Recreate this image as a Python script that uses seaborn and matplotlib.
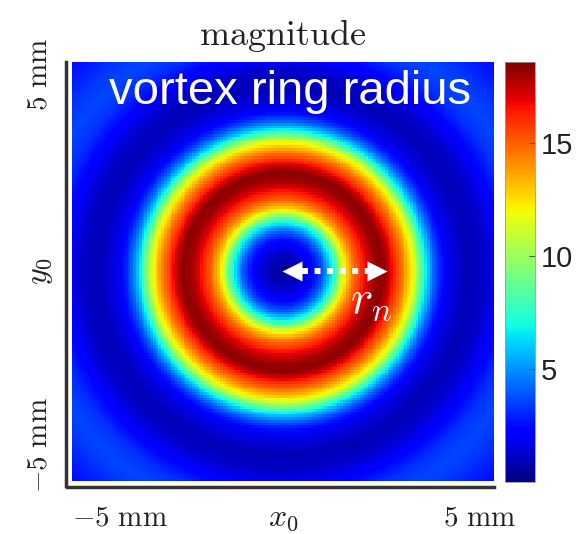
import numpy as np
import matplotlib
matplotlib.use("Agg")
import matplotlib.pyplot as plt
import seaborn as sns

# Radial profile of the magnitude (distance from ring centre, mm)
radius_mm = [0.0, 0.3, 0.6, 0.8, 0.95, 1.1, 1.25, 1.4, 1.55, 1.7, 1.85, 2.0, 2.2,
             2.4, 2.55, 2.7, 2.85, 3.0, 3.15, 3.3, 3.45, 3.6, 3.75, 3.95, 4.4, 4.8,
             5.2, 5.6, 6.0, 6.4, 6.8, 7.1]
magnitude = [0.5, 0.9, 1.8, 2.8, 4.0, 5.8, 8.0, 11.0, 13.2, 14.8, 15.9, 17.0, 18.1,
             18.4, 17.3, 15.8, 14.6, 13.0, 11.2, 8.5, 6.0, 4.2, 2.9, 1.8, 0.9, 1.2,
             2.2, 3.2, 3.6, 3.3, 2.8, 2.5]
grid_mm = np.linspace(-5, 5, 151)
cbar_ticks = [5, 10, 15]
x_ticklabels = [r'$-5\ \mathrm{mm}$', r'$5\ \mathrm{mm}$']
y_ticklabels = [r'$5\ \mathrm{mm}$', r'$-5\ \mathrm{mm}$']

plt.rcParams['mathtext.fontset'] = 'cm'
plt.rcParams['font.family'] = ['Liberation Sans', 'DejaVu Sans']

xx, yy = np.meshgrid(grid_mm, grid_mm)
field = np.interp(np.hypot(xx, yy), radius_mm, magnitude)
n = len(grid_mm)

fig = plt.figure(figsize=(5.79, 5.34), dpi=100)
ax = fig.add_axes([0.124, 0.0993, 0.729, 0.785])
cax = fig.add_axes([0.872, 0.097, 0.052, 0.787])

sns.heatmap(field, ax=ax, cbar_ax=cax, cmap='jet', vmin=0, vmax=18.6,
            xticklabels=False, yticklabels=False,
            cbar_kws={'ticks': cbar_ticks})

# axes ticks / labels
ax.tick_params(length=0, labelsize=21, labelcolor='#222222')
ax.tick_params(axis='x', pad=12)
ax.tick_params(axis='y', pad=10, labelrotation=90)
ax.set_xticks([0.0, 0.967 * n])
ax.set_xticklabels(x_ticklabels)
ax.set_yticks([0.031 * n, 0.914 * n])
ax.set_yticklabels(y_ticklabels)

ax.set_xlabel(r'$x_0$', fontsize=23, va='center', color='#222222')
ax.xaxis.set_label_coords(0.5, -0.088)
ax.set_ylabel(r'$y_0$', fontsize=23, va='center', color='#222222')
ax.yaxis.set_label_coords(-0.076, 0.5)
ax.set_title(r'$\mathrm{magnitude}$', fontsize=26, pad=12, color='#222222')

for side in ['left', 'bottom']:
    sp = ax.spines[side]
    sp.set_visible(True)
    sp.set_color('#333333')
    sp.set_linewidth(2.5)
    sp.set_position(('outward', 4))
ax.spines['left'].set_bounds(0, n * 1.012)
ax.spines['bottom'].set_bounds(-n * 0.012, n)

# overlay annotations
ax.text(0.517, 0.928, 'vortex ring radius', transform=ax.transAxes,
        ha='center', va='center', color='white', fontsize=34)
ax.text(0.71, 0.43, r'$r_n$', transform=ax.transAxes,
        ha='center', va='center', color='white', fontsize=34)

s = n / 422.0          # data units per pixel
c = (n - 1) / 2 + 0.5  # ring centre in heatmap coordinates
ax.plot([c + 19 * s, c + 86 * s], [c, c], color='white', lw=4.3,
        ls=(0, (1, 1.1)), solid_capstyle='butt')
ax.plot([c + 9 * s], [c], marker='<', ms=15, color='white', mec='none')
ax.plot([c + 94 * s], [c], marker='>', ms=15, color='white', mec='none')

# colorbar styling
cax.tick_params(direction='in', length=4, width=0.8, color='#555555',
                labelsize=21, labelcolor='#222222', pad=4)
cbar = ax.collections[0].colorbar
cbar.outline.set_edgecolor('#999999')
cbar.outline.set_linewidth(0.6)
cbar.outline.set_visible(True)

fig.canvas.draw()
xt = ax.xaxis.get_major_ticks()
xt[0].label1.set_horizontalalignment('left')
for t in ax.yaxis.get_major_ticks():
    t.label1.set_rotation(90)
    t.label1.set_verticalalignment('center')
    t.label1.set_horizontalalignment('right')

fig.savefig('out.png', dpi=100)
